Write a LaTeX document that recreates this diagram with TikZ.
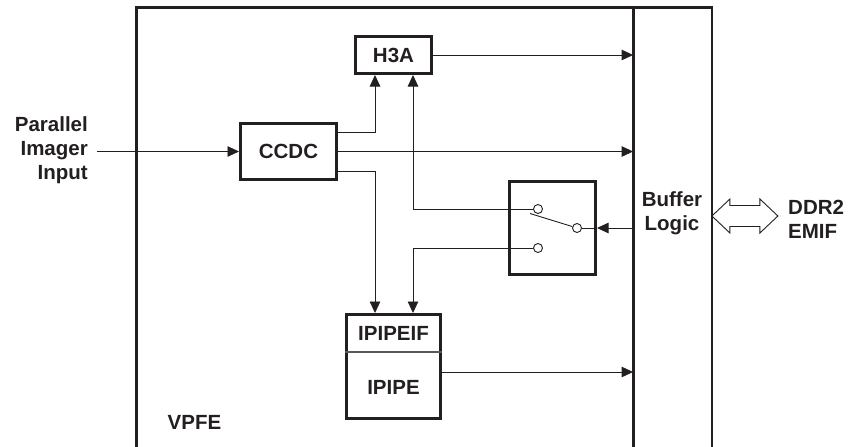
\documentclass[tikz,border=0pt]{standalone}
\usepackage{fontspec}
\setmainfont{Liberation Sans}
\usepackage{tikz}
\usetikzlibrary{arrows.meta,positioning,calc}
\definecolor{tiblack}{RGB}{35,31,32}

\begin{document}
\begin{tikzpicture}[x=1pt, y=-1pt,
    every node/.style={font=\bfseries\fontsize{20.5}{24}\selectfont, text=tiblack},
    block/.style={draw=tiblack, line width=3pt, rectangle, inner sep=0pt},
    frame/.style={draw=tiblack, line width=2.8pt},
    wire/.style={draw=tiblack, line width=0.9pt},
    conn/.style={wire, -{Triangle[length=11.5pt,width=10.5pt]}},
    contact/.style={circle, draw=tiblack, fill=white, line width=0.9pt, minimum size=9pt, inner sep=0pt}]
        \useasboundingbox (0,0) rectangle (849,447);
        % Buffer and VPFE frame
        \node[inner sep=0pt, outer sep=1.4pt, minimum width=76pt, minimum height=446pt] (buffer) at (672.5,231.5) {};
        \draw[frame] (buffer.south west) |- (buffer.north east) -- (buffer.south east);
        \draw[frame] (136.4,454) |- (buffer.north west);
        \node[align=center] (buflabel) at (672,213) {Buffer\\Logic};
        % Blocks
        \node[block, minimum width=96pt, minimum height=56pt] (ccdc) at (288.5,151.5) {CCDC};
        \node[block, minimum width=76pt, minimum height=37pt] (h3a) at (393.5,55) {H3A};
        \node[block, minimum width=94pt, minimum height=104pt] (ipipe) at (393.5,366.5) {};
        \draw[wire, draw=tiblack!75, line width=1.3pt] (ipipe.west |- 0,352) -- (ipipe.east |- 0,352);
        \node (ipipeif-label) at (393.5,333) {IPIPEIF};
        \node (ipipe-label) at (393.5,387) {IPIPE};
        \node[block, minimum width=86pt, minimum height=93pt] (switch) at (552.5,228) {};
        % Switch contacts
        \node[contact] (upc) at (538,209) {};
        \node[contact] (loc) at (538,248) {};
        \node[contact] (pivot) at (577,228) {};
        \coordinate (blade) at (530,213.5);
        % Labels
        \node[align=right, anchor=east, inner sep=0pt] (input) at (88,150) {Parallel\\Imager\\Input};
        \node[align=left, anchor=west, inner sep=0pt] (ddr) at (788,219) {DDR2\\EMIF};
        \node (vpfe) at (194.5,422) {VPFE};
        % Connections
        \draw[conn] ([xshift=9pt]input.east |- ccdc.west) -- (ccdc.west);
        \draw[conn] ([yshift=19.5pt]ccdc.east) -| ([xshift=-18.5pt]h3a.south);
        \draw[conn] (ccdc.east) -- (ccdc.east -| buffer.west);
        \draw[conn] ([yshift=-19.5pt]ccdc.east) -| ([xshift=-18.5pt]ipipe.north);
        \draw[conn] (h3a.east) -- (h3a.east -| buffer.west);
        \draw[conn] ([yshift=-5.5pt]ipipe.east) -- ([yshift=-5.5pt]ipipe.east -| buffer.west);
        \draw[conn] (switch.east -| buffer.west) -- (switch.east);
        \draw[wire] (switch.east) -- (pivot);
        \draw[wire] (blade) -- (pivot);
        \draw[conn] (upc.west) -| ([xshift=19.5pt]h3a.south);
        \draw[conn] (loc.west) -| ([xshift=19.5pt]ipipe.north);
        % DDR2 link (outline double arrow)
        \coordinate (ddrtip) at (buffer.east |- 0,216);
        \draw[wire, line join=miter] (ddrtip) -- ++(18,-17) -- ++(0,6.5) -- ++(30,0) -- ++(0,-6.5) -- ++(18,17)
            -- ++(-18,17) -- ++(0,-6.5) -- ++(-30,0) -- ++(0,6.5) -- cycle;
\end{tikzpicture}
\end{document}
